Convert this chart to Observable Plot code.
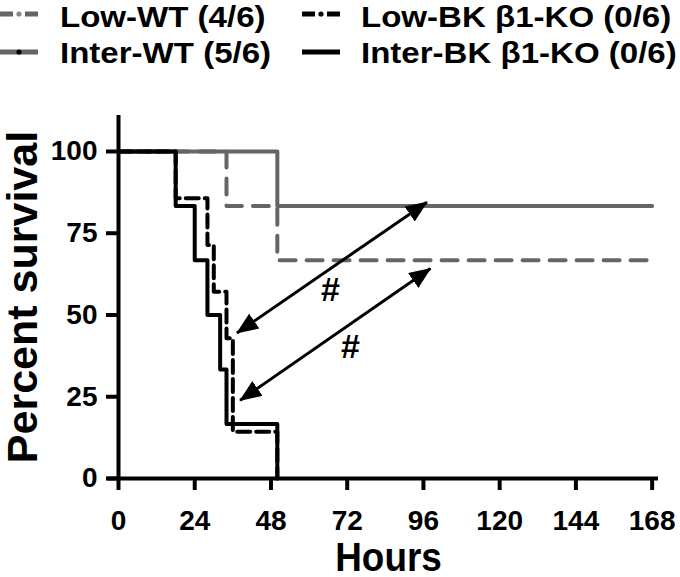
<!DOCTYPE html>
<html>
<head>
<meta charset="utf-8">
<script src="https://cdn.jsdelivr.net/npm/d3@7"></script>
<script src="https://cdn.jsdelivr.net/npm/@observablehq/plot@0.6"></script>
<style>
  html, body { margin: 0; padding: 0; background: #fff; }
  #wrap { width: 680px; height: 577px; position: relative; overflow: hidden; }
  svg { display: block; }
</style>
</head>
<body>
<div id="wrap">
  <svg id="legend" width="680" height="72"></svg>
  <div id="chart"></div>
</div>
<script>
// ---- Data ----
const xTicks = [0, 24, 48, 72, 96, 120, 144, 168];
const yTicks = [0, 25, 50, 75, 100];

const seriesNames = ["Low-WT (4/6)", "Low-BK β1-KO (0/6)", "Inter-WT (5/6)", "Inter-BK β1-KO (0/6)"];

const lowWT_hours = [0, 34, 50, 168];
const lowWT_surv  = [100, 83.3, 66.7, 66.7];

const interWT_hours = [0, 50, 168];
const interWT_surv  = [100, 83.3, 83.3];

const lowKO_hours = [0, 18, 28, 30, 34, 36, 50];
const lowKO_surv  = [100, 85.7, 71.4, 57.1, 42.9, 14.3, 0];

const interKO_hours = [0, 18, 24, 28, 32, 34, 50];
const interKO_surv  = [100, 83.3, 66.7, 50, 33.3, 16.7, 0];

// annotation arrows (double-headed) and "#" marks
const arrowFromHours = [97.1, 98.2];
const arrowFromSurv  = [84.5, 64.2];
const arrowToHours   = [37.3, 38.3];
const arrowToSurv    = [44.5, 23.9];
const hashHours = [66.7, 73.0];
const hashSurv  = [57.5, 40.1];
const hashLabel = ["#", "#"];

// ---- Build tables ----
const zip = (xs, ys) => xs.map((x, i) => ({hours: x, surv: ys[i]}));
const lowWT = zip(lowWT_hours, lowWT_surv);
const interWT = zip(interWT_hours, interWT_surv);
const lowKO = zip(lowKO_hours, lowKO_surv);
const interKO = zip(interKO_hours, interKO_surv);
const arrows = arrowFromHours.map((h, i) => ({x1: h, y1: arrowFromSurv[i], x2: arrowToHours[i], y2: arrowToSurv[i]}));
const hashes = hashHours.map((h, i) => ({hours: h, surv: hashSurv[i], label: hashLabel[i]}));

const GRAY = "#656565";
const FONT = "'Liberation Sans', Arial, Helvetica, sans-serif";

// ---- Legend (above the plot) ----
const legendItems = [
  {label: seriesNames[0], color: GRAY, dot: "#8a8a8a", dashed: true, col: 0, row: 0},
  {label: seriesNames[1], color: "#000", dot: "#000", dashed: true, col: 1, row: 0},
  {label: seriesNames[2], color: GRAY, dot: "#000", dashed: false, col: 0, row: 1},
  {label: seriesNames[3], color: "#000", dot: null, dashed: false, col: 1, row: 1}
];
const colX = [0, 302];
const textX = [60, 361];
const sampleY = [14, 52];
const baseY = [27, 63];
const leg = d3.select("#legend");
for (const it of legendItems) {
  const g = leg.append("g").attr("transform", `translate(${colX[it.col]},${sampleY[it.row]})`);
  if (it.dashed) {
    g.append("line").attr("x1", 0).attr("x2", 13).attr("y1", 0).attr("y2", 0).attr("stroke", it.color).attr("stroke-width", 5);
    g.append("line").attr("x1", 25).attr("x2", 38).attr("y1", 0).attr("y2", 0).attr("stroke", it.color).attr("stroke-width", 5);
  } else {
    g.append("line").attr("x1", 0).attr("x2", 38).attr("y1", 0).attr("y2", 0).attr("stroke", it.color).attr("stroke-width", 5);
  }
  if (it.dot) g.append("circle").attr("cx", 19).attr("cy", 0).attr("r", 2.6).attr("fill", it.dot);
  leg.append("text")
    .attr("transform", `translate(${textX[it.col]},${baseY[it.row]}) scale(1.14,1)`)
    .attr("font-family", FONT).attr("font-weight", "bold").attr("font-size", 29)
    .attr("fill", "#000")
    .text(it.label);
}

// ---- Plot ----
const chart = Plot.plot({
  width: 680,
  height: 505,
  marginLeft: 118,
  marginRight: 22,
  marginTop: 43,
  marginBottom: 99,
  x: {domain: [0, 170]},
  y: {domain: [0, 111]},
  style: {fontFamily: FONT, background: "#fff", color: "#000", overflow: "visible"},
  marks: [
    Plot.axisX({ticks: xTicks, tickSize: 12, strokeWidth: 4, tickPadding: 20, fontSize: 28, fontWeight: "bold", label: null}),
    Plot.axisY({ticks: yTicks, tickSize: 12, strokeWidth: 4, tickPadding: 9, fontSize: 28, fontWeight: "bold", label: null}),
    Plot.ruleY([0], {strokeWidth: 4, insetLeft: -11}),
    Plot.ruleX([0], {strokeWidth: 4}),
    Plot.line(lowWT, {x: "hours", y: "surv", curve: "step-after", stroke: GRAY, strokeWidth: 4, strokeDasharray: "16,11", strokeLinecap: "round"}),
    Plot.line(interWT, {x: "hours", y: "surv", curve: "step-after", stroke: GRAY, strokeWidth: 4, strokeLinecap: "round"}),
    Plot.line(interKO, {x: "hours", y: "surv", curve: "step-after", stroke: "#000", strokeWidth: 4}),
    Plot.line(lowKO, {x: "hours", y: "surv", curve: "step-after", stroke: "#000", strokeWidth: 4, strokeDasharray: "13,6"}),
    Plot.link(arrows, {x1: "x1", y1: "y1", x2: "x2", y2: "y2", stroke: "#000", strokeWidth: 3}),
    Plot.text(hashes, {x: "hours", y: "surv", text: "label", fontSize: 34, fontWeight: "bold", fill: "#000", lineAnchor: "middle"}),
    Plot.text(["Percent survival"], {frameAnchor: "left", textAnchor: "middle", lineAnchor: "middle", rotate: -90, dx: -95, fontSize: 43, fontWeight: "bold", fill: "#000"}),
    Plot.text(["Hours"], {frameAnchor: "bottom", textAnchor: "middle", lineAnchor: "middle", dy: 79, fontSize: 41, fontWeight: "bold", fill: "#000"})
  ]
});
document.getElementById("chart").appendChild(chart);

const svg = d3.select(chart);
// the reference's "Hours" title is horizontally condensed
svg.selectAll("text").filter(function() { return this.textContent === "Hours"; })
  .each(function() {
    const t = this.getAttribute("transform") || "";
    this.setAttribute("transform", t + " scale(0.9,1)");
  });

// filled arrowheads at both ends of the annotation links
const defs = svg.insert("defs", ":first-child");
defs.append("marker")
  .attr("id", "ahead")
  .attr("viewBox", "0 0 22 18")
  .attr("refX", 21).attr("refY", 9)
  .attr("markerUnits", "userSpaceOnUse")
  .attr("markerWidth", 22).attr("markerHeight", 18)
  .attr("orient", "auto-start-reverse")
  .append("path").attr("d", "M0,0L22,9L0,18Z").attr("fill", "#000");
svg.selectAll('g[aria-label="link"] path')
  .attr("marker-start", "url(#ahead)")
  .attr("marker-end", "url(#ahead)");
</script>
</body>
</html>
